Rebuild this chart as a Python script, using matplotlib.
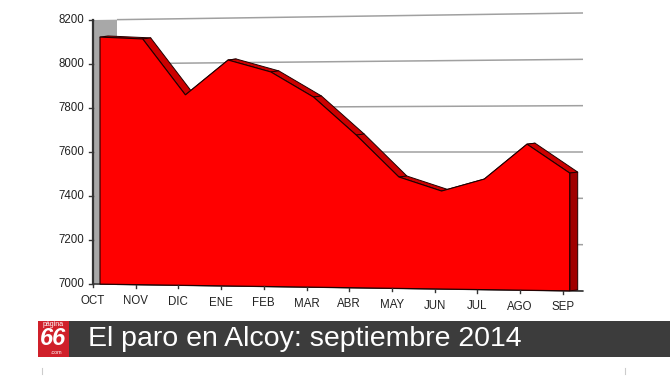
import matplotlib
matplotlib.use("Agg")
import matplotlib.pyplot as plt
from matplotlib.patches import Polygon, Rectangle
import numpy as np

# ---- data ----
months = ["OCT", "NOV", "DIC", "ENE", "FEB", "MAR", "ABR", "MAY", "JUN", "JUL", "AGO", "SEP"]
paro = [8122, 8111, 7857, 8012, 7957, 7844, 7675, 7490, 7429, 7482, 7634, 7509]
yticks = [7000, 7200, 7400, 7600, 7800, 8000, 8200]
title = "El paro en Alcoy: septiembre 2014"

# ---- pseudo-3D projection (Excel style), expressed in data units ----
PX_PER_MONTH = 42.7
PX_PER_UNIT = 264 / 1200.0
K = 7 / 489.0          # keystone slope
VMIN, VMAX = yticks[0], yticks[-1]


def proj(i, v, d=0.0, lift=0.0):
    """month index i, value v, depth d (in px) -> axes data coords"""
    xp = i * PX_PER_MONTH + d
    X = i + d / PX_PER_MONTH
    V = VMIN - K * xp / PX_PER_UNIT + (v - VMIN) * (1 + 2 * K * xp / 264.0) + lift / PX_PER_UNIT
    return X, V


fig = plt.figure(figsize=(6.7, 3.77), dpi=100)
ax = fig.add_axes([0, 0, 1, 1])
ax.set_xlim(-93 / PX_PER_MONTH, (670 - 93) / PX_PER_MONTH)
ax.set_ylim(VMIN - (377 - 284) / PX_PER_UNIT, VMAX + 20 / PX_PER_UNIT)
ax.axis("off")

FRONT, BACK, WALL = 7.0, 15.0, 24.0
n = len(paro)
i_end = 490 / PX_PER_MONTH  # right end of floor / gridlines in month units

# back wall gridlines
for v in yticks:
    x0, y0 = proj(0, v, WALL)
    x1, y1 = proj((490 - WALL) / PX_PER_MONTH, v, WALL)
    ax.plot([x0, x1], [y0, y1], color="#a0a0a0", lw=1.1, zorder=1, solid_capstyle="butt")

# left side wall
wall = [proj(0, VMIN, 0), proj(0, VMAX, 0), proj(0, VMAX, WALL), proj(0, VMIN, WALL)]
ax.add_patch(Polygon(wall, closed=True, facecolor="#a8a8a8", edgecolor="none", zorder=2))

# floor / bottom axis
x0, y0 = proj(0, VMIN, 0)
x1, y1 = proj(i_end, VMIN, 0)
ax.plot([x0, x1], [y0, y1], color="#222222", lw=1.0, zorder=3)

# top band of the area
for j in range(n - 1):
    quad = [proj(j, paro[j], FRONT), proj(j + 1, paro[j + 1], FRONT),
            proj(j + 1, paro[j + 1], BACK, 1.0), proj(j, paro[j], BACK, 1.0)]
    ax.add_patch(Polygon(quad, closed=True, facecolor="#cc0000", edgecolor="#200000",
                         lw=0.7, zorder=4, joinstyle="round"))

# right side face
side = [proj(n - 1, VMIN, FRONT), proj(n - 1, paro[-1], FRONT),
        proj(n - 1, paro[-1], BACK, 1.0), proj(n - 1, VMIN, BACK, 1.0)]
ax.add_patch(Polygon(side, closed=True, facecolor="#a00000", edgecolor="#200000", lw=0.7, zorder=4))

# front face
front = [proj(i, v, FRONT) for i, v in enumerate(paro)]
front += [proj(n - 1, VMIN, FRONT), proj(0, VMIN, FRONT)]
ax.add_patch(Polygon(front, closed=True, facecolor="#ff0000", edgecolor="#200000", lw=0.8, zorder=5))

# left axis line and ticks
x0, y0 = proj(0, VMIN, 0)
x1, y1 = proj(0, VMAX, 0)
ax.plot([x0, x1], [y0, y1], color="#333333", lw=1.6, zorder=6)
for v in yticks:
    xv, yv = proj(0, v, 0)
    ax.plot([xv - 4 / PX_PER_MONTH, xv], [yv, yv], color="#333333", lw=1.0, zorder=6)
    ax.annotate(str(v), (xv, yv), xytext=(-6, 0), textcoords="offset points",
                ha="right", va="center", fontsize=8.3, color="#222222",
                family="Liberation Sans")

# bottom ticks and labels
for i, m in enumerate(months):
    xv, yv = proj(i, VMIN, 0)
    ax.plot([xv, xv], [yv, yv - 3 / PX_PER_UNIT], color="#333333", lw=1.0, zorder=6)
    ax.annotate(m, (xv, yv), xytext=(0, -12), textcoords="offset points",
                ha="center", va="center", fontsize=8.3, color="#222222",
                family="Liberation Sans")

# ---- title banner ----
W, H = 670.0, 377.0
fig.patches.append(Rectangle((38 / W, (H - 357) / H), (670 - 38) / W, 36 / H,
                             transform=fig.transFigure, facecolor="#3c3c3c", edgecolor="none"))
fig.patches.append(Rectangle((38 / W, (H - 357) / H), 31 / W, 36 / H,
                             transform=fig.transFigure, facecolor="#d0202a", edgecolor="none"))
fig.text(53.5 / W, (H - 324.5) / H, "página", color="white", fontsize=5, ha="center", va="center",
         family="Liberation Sans")
fig.text(53 / W, (H - 338.5) / H, "66", color="white", fontsize=17, ha="center", va="center",
         family="Liberation Sans", fontweight="bold", style="italic")
fig.text(56 / W, (H - 352.5) / H, ".com", color="white", fontsize=3.8, ha="center", va="center",
         family="Liberation Sans")
fig.text(88 / W, (H - 339) / H, title, color="white", fontsize=20.5, ha="left", va="center",
         family="Liberation Sans")

# faint corner marks below the banner
for xm in (42, 625):
    fig.add_artist(plt.Line2D([xm / W, xm / W], [(H - 374) / H, (H - 368) / H],
                              transform=fig.transFigure, color="#cccccc", lw=0.8))

fig.savefig("out.png", dpi=100)
